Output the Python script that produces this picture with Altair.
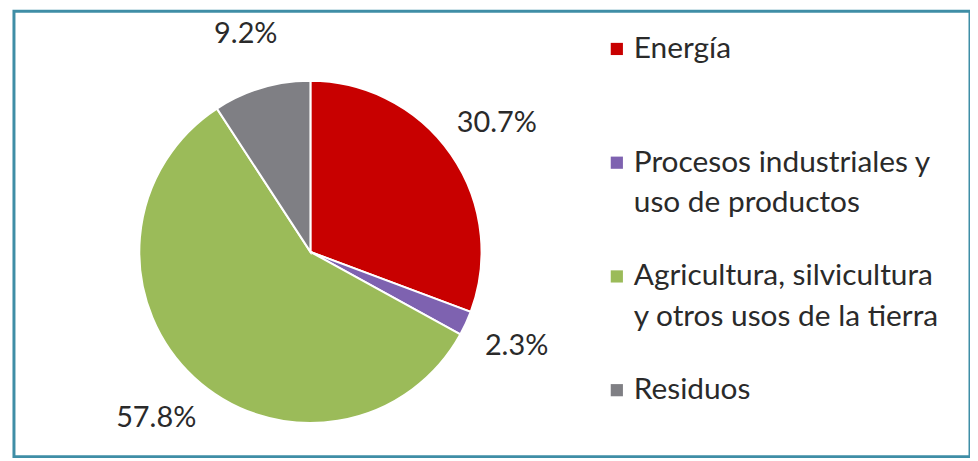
import altair as alt
import pandas as pd

categories = [
    "Energía",
    "Procesos industriales y uso de productos",
    "Agricultura, silvicultura y otros usos de la tierra",
    "Residuos",
]
shares = [30.7, 2.3, 57.8, 9.2]
pct_labels = ["30.7%", "2.3%", "57.8%", "9.2%"]
legend_line1 = ["Energía", "Procesos industriales y", "Agricultura, silvicultura", "Residuos"]
legend_line2 = ["", "uso de productos", "y otros usos de la tierra", ""]
colors = ["#c80000", "#7e62b0", "#9bbb59", "#7f7f84"]

df = pd.DataFrame({
    "cat": categories,
    "share": shares,
    "label": pct_labels,
    "line1": legend_line1,
    "line2": legend_line2,
    "order": list(range(len(categories))),
})

CX, CY = 298, 242
FONT = "Lato"
TXT = "#2a2a2a"

color = alt.Color("cat:N", scale=alt.Scale(domain=categories, range=colors), legend=None)
theta = alt.Theta("share:Q", stack=True)
order = alt.Order("order:Q")

base = alt.Chart(df)

pie = base.mark_arc(outerRadius=172, stroke="white", strokeWidth=2).encode(
    theta=theta, color=color, order=order, x=alt.value(CX), y=alt.value(CY)
)

labels = base.mark_text(radius=228, fontSize=29, font=FONT, color=TXT).encode(
    theta=theta, order=order, text="label:N", x=alt.value(CX), y=alt.value(CY)
)

ypos = alt.Y("order:Q", scale=alt.Scale(domain=[0, 3], range=[38, 381]), axis=None)

squares = base.mark_square(size=150, opacity=1).encode(
    x=alt.value(606), y=ypos, color=color
)
text1 = base.mark_text(align="left", baseline="middle", fontSize=30, font=FONT, color=TXT).encode(
    x=alt.value(623), y=ypos, text="line1:N"
)
text2 = base.mark_text(align="left", baseline="middle", fontSize=30, font=FONT, color=TXT, dy=41).encode(
    x=alt.value(623), y=ypos, text="line2:N"
)

chart = alt.layer(pie, labels, squares, text1, text2).properties(
    width=961,
    height=448,
    padding={"left": 6, "top": 2, "right": 0, "bottom": 0},
    autosize="none",
    background="white",
).configure_view(stroke="#3f8ea6", strokeWidth=3)

chart.save("out.html", embed_options={"renderer": "svg", "actions": False})
